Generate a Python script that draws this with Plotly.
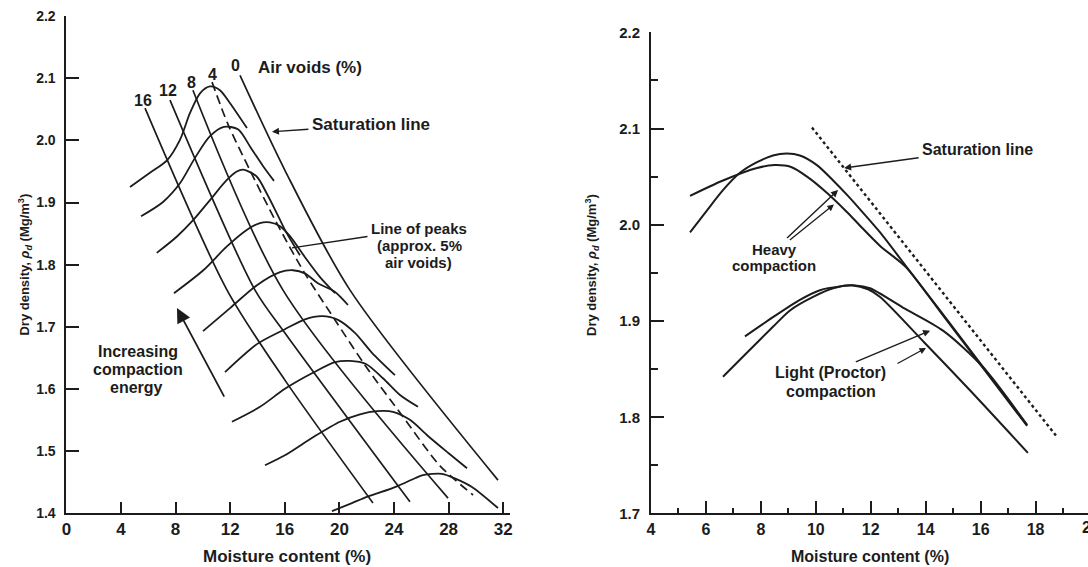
import plotly.graph_objects as go

# ---------------- Left panel: compaction curves (moisture %, dry density Mg/m3) ----------------
c1_w = [4.66, 6.12, 7.37, 8.32, 9.05, 9.79, 10.52, 11.25, 11.99, 13.23]
c1_d = [1.925, 1.948, 1.968, 2.001, 2.044, 2.076, 2.087, 2.081, 2.060, 2.020]
c2_w = [5.47, 7.08, 8.32, 9.42, 10.52, 11.55, 12.57, 13.52, 14.40, 15.21]
c2_d = [1.878, 1.901, 1.931, 1.972, 2.007, 2.022, 2.018, 1.988, 1.959, 1.935]
c3_w = [6.62, 8.08, 9.30, 10.52, 11.74, 12.48, 12.96, 13.94, 14.67, 15.41, 16.01, 17.11]
c3_d = [1.819, 1.845, 1.872, 1.904, 1.936, 1.950, 1.953, 1.942, 1.915, 1.883, 1.856, 1.815]
c4_w = [7.88, 10.03, 11.74, 13.21, 14.18, 14.92, 15.65, 16.38, 17.48, 18.58, 19.68]
c4_d = [1.754, 1.791, 1.829, 1.856, 1.867, 1.868, 1.862, 1.846, 1.812, 1.780, 1.754]
c5_w = [10.01, 11.99, 13.96, 15.65, 16.60, 17.48, 18.43, 19.68, 20.63]
c5_d = [1.693, 1.730, 1.767, 1.788, 1.791, 1.786, 1.770, 1.756, 1.735]
c6_w = [11.62, 13.96, 16.01, 17.48, 18.73, 19.90, 21.14, 22.39, 24.07]
c6_d = [1.627, 1.672, 1.696, 1.712, 1.717, 1.711, 1.690, 1.658, 1.622]
c7_w = [12.13, 14.18, 16.01, 17.99, 19.68, 20.78, 21.95, 23.19, 24.44, 25.76]
c7_d = [1.547, 1.571, 1.600, 1.625, 1.643, 1.645, 1.640, 1.617, 1.590, 1.571]
c8_w = [14.55, 16.01, 18.07, 20.04, 21.51, 22.75, 23.93, 25.17, 26.49, 27.96, 29.35]
c8_d = [1.477, 1.493, 1.522, 1.547, 1.559, 1.564, 1.563, 1.550, 1.524, 1.497, 1.472]
c9_w = [19.46, 20.92, 22.02, 22.83, 24.22, 25.54, 26.12, 27.52, 28.54, 29.71, 31.62]
c9_d = [1.403, 1.416, 1.426, 1.432, 1.443, 1.456, 1.461, 1.463, 1.455, 1.442, 1.408]

# air-void lines
av16_w = [5.76, 11.77, 16.01, 22.46]
av16_d = [2.052, 1.759, 1.614, 1.416]
av12_w = [7.59, 13.82, 16.01, 25.17]
av12_d = [2.065, 1.759, 1.690, 1.418]
av8_w = [9.27, 15.87, 27.96]
av8_d = [2.081, 1.759, 1.424]
peaks_w = [10.67, 11.84, 13.45, 15.36, 17.41, 19.68, 21.88, 24.66, 27.37, 29.79]
peaks_d = [2.094, 2.026, 1.952, 1.869, 1.788, 1.711, 1.638, 1.555, 1.476, 1.429]
av0_w = [12.72, 16.01, 20.78, 31.62]
av0_d = [2.105, 1.952, 1.759, 1.453]

left_xticks = [0, 4, 8, 12, 16, 20, 24, 28, 32]
left_yticks = [1.4, 1.5, 1.6, 1.7, 1.8, 1.9, 2.0, 2.1, 2.2]

# ---------------- Right panel ----------------
heavyA_w = [5.42, 6.04, 6.62, 7.24, 7.86, 8.44, 8.95, 9.42, 10.04, 10.63, 11.17, 11.61, 12.34, 13.28, 14.52, 16.09, 17.69]
heavyA_d = [1.992, 2.015, 2.036, 2.054, 2.065, 2.072, 2.074, 2.072, 2.062, 2.046, 2.030, 2.016, 1.992, 1.957, 1.911, 1.852, 1.792]
heavyB_w = [5.42, 6.62, 7.86, 8.50, 9.10, 9.68, 10.41, 11.14, 11.61, 12.34, 13.28, 14.52, 16.09, 17.69]
heavyB_d = [2.030, 2.046, 2.059, 2.062, 2.060, 2.050, 2.033, 2.013, 1.999, 1.978, 1.956, 1.910, 1.851, 1.791]
lightC_w = [7.42, 8.44, 9.42, 10.15, 10.88, 11.43, 11.97, 13.17, 14.63, 16.09, 17.69]
lightC_d = [1.884, 1.904, 1.922, 1.932, 1.936, 1.937, 1.934, 1.914, 1.890, 1.852, 1.792]
lightD_w = [6.62, 7.49, 8.44, 9.06, 9.90, 10.63, 11.35, 11.90, 12.34, 13.94, 15.61, 17.72]
lightD_d = [1.842, 1.867, 1.894, 1.911, 1.925, 1.934, 1.937, 1.933, 1.925, 1.878, 1.828, 1.763]
sat_w = [9.86, 18.74]
sat_d = [2.101, 1.781]

right_xticks = [4, 6, 8, 10, 12, 14, 16, 18]
right_yticks = [1.7, 1.8, 1.9, 2.0, 2.1, 2.2]

FONT = "Liberation Sans, Arial, sans-serif"
INK = "#1c1c1c"

fig = go.Figure()


def add_line(x, y, xa, ya, dash="solid", width=1.8, shape="spline"):
    fig.add_trace(go.Scatter(
        x=x, y=y, mode="lines", xaxis=xa, yaxis=ya,
        line=dict(color=INK, width=width, dash=dash, shape=shape, smoothing=0.8),
        hoverinfo="skip", showlegend=False))


for w, d in [(c1_w, c1_d), (c2_w, c2_d), (c3_w, c3_d), (c4_w, c4_d), (c5_w, c5_d),
             (c6_w, c6_d), (c7_w, c7_d), (c8_w, c8_d), (c9_w, c9_d)]:
    add_line(w, d, "x", "y")
for w, d in [(av16_w, av16_d), (av12_w, av12_d), (av8_w, av8_d), (av0_w, av0_d)]:
    add_line(w, d, "x", "y", width=1.7)
add_line(peaks_w, peaks_d, "x", "y", dash="9px,5px", width=1.7)

for w, d in [(heavyA_w, heavyA_d), (heavyB_w, heavyB_d), (lightC_w, lightC_d), (lightD_w, lightD_d)]:
    add_line(w, d, "x2", "y2", width=2)
add_line(sat_w, sat_d, "x2", "y2", dash="dot", width=2.4, shape="linear")

axis_common = dict(showgrid=False, zeroline=False, showline=True, linewidth=2,
                   linecolor=INK, tickcolor=INK, tickwidth=1.8, automargin=False)

fig.update_layout(
    width=1088, height=567,
    margin=dict(l=0, r=0, t=0, b=0, autoexpand=False),
    paper_bgcolor="white", plot_bgcolor="white",
    showlegend=False,
    font=dict(family=FONT, color=INK),
    xaxis=dict(domain=[0.06103, 0.46875], range=[0, 32.5], anchor="y",
               tickmode="array", tickvals=left_xticks, ticks="inside", ticklen=11,
               tickfont=dict(size=17, weight="bold", color=INK), **axis_common),
    yaxis=dict(domain=[0.09524, 0.97178], range=[1.4, 2.2005], anchor="x",
               tickmode="array", tickvals=left_yticks, tickformat=".1f", ticks="inside",
               ticklen=13, ticklabelstandoff=6,
               tickfont=dict(size=14, weight="bold", color=INK), **axis_common),
    xaxis2=dict(domain=[0.59835, 1.0], range=[4, 19.908], anchor="y2",
                tickmode="array", tickvals=right_xticks, ticks="inside", ticklen=12,
                minor=dict(dtick=1, tick0=4, ticks="inside", ticklen=5, tickwidth=1.5, tickcolor=INK),
                tickfont=dict(size=16, weight="bold", color=INK), **axis_common),
    yaxis2=dict(domain=[0.09436, 0.94392], range=[1.7, 2.2005], anchor="x2",
                tickmode="array", tickvals=right_yticks, tickformat=".1f", ticks="inside",
                ticklen=13, ticklabelstandoff=6,
                minor=dict(dtick=0.05, ticks="inside", ticklen=7, tickwidth=1.5, tickcolor=INK),
                tickfont=dict(size=15, weight="bold", color=INK), **axis_common),
)

ann = []


def txt(x, y, s, size=17, xref="x", yref="y", angle=0, bold=True, tip=None, head=2):
    a = dict(x=x, y=y, xref=xref, yref=yref, text=s, showarrow=False,
             textangle=angle, xanchor="center", yanchor="middle",
             font=dict(family=FONT, size=size, color=INK,
                       weight="bold" if bold else "normal"))
    if tip is not None:
        # text stays at (x, y); arrow is drawn from the text box to the tip
        a.update(x=tip[0], y=tip[1], ax=x, ay=y, axref=xref, ayref=yref,
                 showarrow=True, arrowhead=head, arrowsize=1.0, arrowwidth=1.4,
                 arrowcolor=INK, standoff=0, startstandoff=2)
        a.pop("xanchor")
        a.pop("yanchor")
    ann.append(a)


def arrow(x, y, ax, ay, xref="x", yref="y", head=2, size=1.0, width=1.3):
    ann.append(dict(x=x, y=y, ax=ax, ay=ay, xref=xref, yref=yref,
                    axref=xref, ayref=yref, text="", showarrow=True,
                    arrowhead=head, arrowsize=size, arrowwidth=width, arrowcolor=INK))


# left panel labels
txt(5.61, 2.065, "16", 16)
txt(7.44, 2.080, "12", 16)
txt(9.13, 2.094, "8", 16)
txt(10.74, 2.107, "4", 16)
txt(12.42, 2.121, "0", 16)
txt(17.85, 2.117, "Air voids (%)")
txt(22.31, 2.025, "Saturation line", tip=(15.06, 2.014))
txt(25.83, 1.858, "Line of peaks", 15, tip=(16.53, 1.827), head=0)
txt(25.90, 1.831, "(approx. 5%", 15)
txt(25.83, 1.804, "air voids)", 15)
txt(5.27, 1.660, "Increasing", 16)
txt(5.27, 1.631, "compaction", 16)
txt(5.15, 1.602, "energy", 16)
arrow(8.10, 1.730, 11.62, 1.585, head=2, size=1.6, width=1.8)

# right panel labels
txt(15.89, 2.078, "Saturation line", 16, "x2", "y2", tip=(11.03, 2.059))
txt(8.51, 1.9745, "Heavy", 15, "x2", "y2", tip=(10.81, 2.036))
txt(8.48, 1.9575, "compaction", 15, "x2", "y2")
arrow(10.66, 2.021, 9.0, 1.983, "x2", "y2", head=2, size=1.0, width=1.3)
txt(10.52, 1.8464, "Light (Proctor)", 16, "x2", "y2", tip=(14.16, 1.890))
txt(10.55, 1.8268, "compaction", 16, "x2", "y2")
arrow(14.01, 1.872, 12.92, 1.855, "x2", "y2", head=2, size=1.0, width=1.3)

# partially visible "20" tick label at right edge
txt(1.0024, 0.0688, "20", 16, "paper", "paper")

# axis titles
ytitle = "Dry density, <i>ρ</i><sub><i>d</i></sub> (Mg/m<sup>3</sup>)"
txt(0.0221, 0.5335, ytitle, 13, "paper", "paper", angle=-90)
txt(0.5441, 0.5326, ytitle, 13, "paper", "paper", angle=-90)
txt(0.2638, 0.0194, "Moisture content (%)", 17, "paper", "paper")
txt(0.7996, 0.0194, "Moisture content (%)", 16, "paper", "paper")

fig.update_layout(annotations=ann)
fig.write_html("out.html")
